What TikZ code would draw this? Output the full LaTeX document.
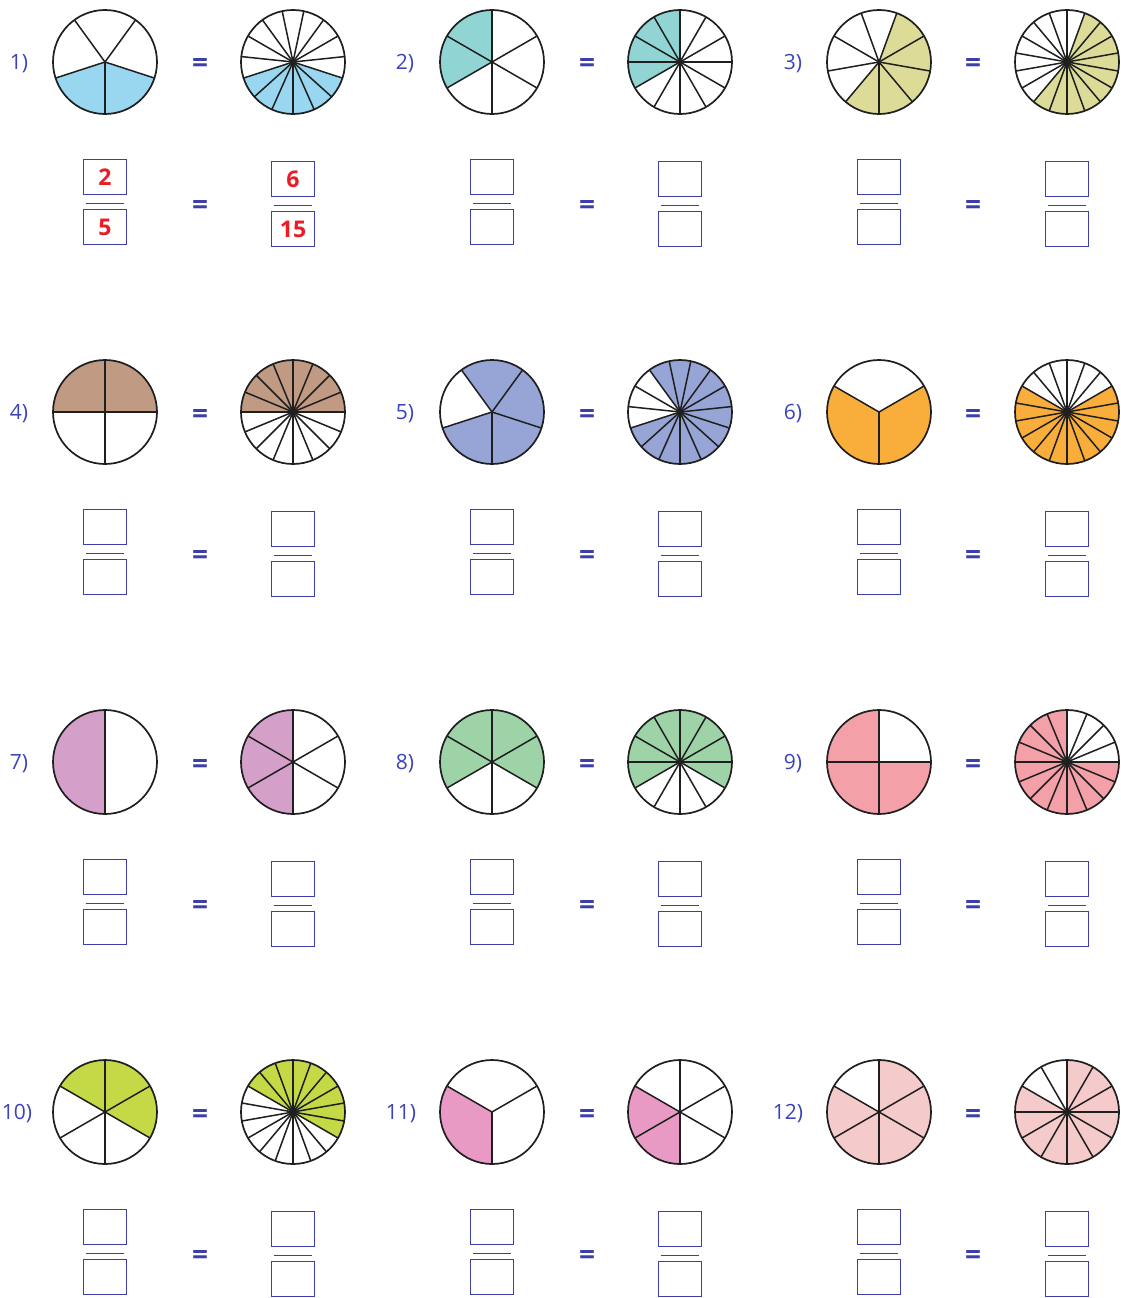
\documentclass[tikz,border=0pt]{standalone}
\usepackage{fontspec}
\setmainfont{Open Sans}
\definecolor{lblue}{RGB}{58,68,186}
\definecolor{boxblue}{RGB}{60,62,170}
\definecolor{ansred}{RGB}{236,28,36}
\definecolor{cA}{RGB}{153,214,240}
\definecolor{cB}{RGB}{144,212,212}
\definecolor{cC}{RGB}{220,220,152}
\definecolor{cD}{RGB}{192,154,130}
\definecolor{cE}{RGB}{150,165,213}
\definecolor{cF}{RGB}{249,174,60}
\definecolor{cG}{RGB}{212,159,200}
\definecolor{cH}{RGB}{158,211,168}
\definecolor{cI}{RGB}{244,160,168}
\definecolor{cJ}{RGB}{197,216,69}
\definecolor{cK}{RGB}{232,154,196}
\definecolor{cL}{RGB}{245,202,203}
\tikzset{
  seg/.style={draw=black!88, line width=1.5pt},
  rim/.style={draw=black!88, line width=1.7pt},
  lbl/.style={text=lblue, font=\fontsize{21}{24}\selectfont, inner sep=0pt},
  eqsign/.style={text=boxblue, font=\bfseries\fontsize{28}{30}\selectfont, inner sep=0pt},
  fbox/.style={draw=boxblue, line width=1.8pt, minimum width=43pt, minimum height=35pt,
    inner sep=0pt, text=ansred, font=\bfseries\fontsize{23}{26}\selectfont},
  fline/.style={draw=boxblue, line width=1.8pt},
}
\def\R{52pt}
% #1 name, #2 cx, #3 cy, #4 parts, #5 first boundary angle, #6 shade start, #7 shade end, #8 colour
\newcommand\mypie[8]{%
  \coordinate (#1) at (#2,#3);
  \fill[#8] (#1) -- ++(#6:\R) arc[start angle=#6, end angle=#7, radius=\R] -- cycle;
  \foreach \k in {1,...,#4} {\draw[seg] (#1) -- ++({#5+360/#4*\k}:\R);}
  \draw[rim] (#1) circle[radius=\R];
}
% #1 name, #2 x, #3 numerator centre y, #4 numerator, #5 denominator
\newcommand\myfrac[5]{%
  \node[fbox] (#1n) at (#2,#3) {#4};
  \node[fbox] (#1d) at (#2,#3+50) {#5};
  \draw[fline] ([xshift=3pt,yshift=-8pt]#1n.south west) -- ([xshift=-3pt,yshift=-8pt]#1n.south east);
}
\begin{document}
\begin{tikzpicture}[x=1pt,y=-1pt]
\useasboundingbox (0,0) rectangle (1121,1298);
\fill[white] (0,0) rectangle (1121,1298);

% ---------- circles ----------
\mypie{a1}{105}{62}{5}{270}{198}{342}{cA}
\mypie{b1}{293}{62}{15}{270}{198}{342}{cA}
\mypie{a2}{492}{62}{6}{90}{90}{210}{cB}
\mypie{b2}{680}{62}{12}{90}{90}{210}{cB}
\mypie{a3}{879}{62}{9}{270}{230}{430}{cC}
\mypie{b3}{1067}{62}{18}{270}{230}{430}{cC}

\mypie{a4}{105}{412}{4}{0}{0}{180}{cD}
\mypie{b4}{293}{412}{16}{0}{0}{180}{cD}
\mypie{a5}{492}{412}{5}{270}{198}{486}{cE}
\mypie{b5}{680}{412}{15}{270}{198}{486}{cE}
\mypie{a6}{879}{412}{3}{270}{150}{390}{cF}
\mypie{b6}{1067}{412}{18}{270}{150}{390}{cF}

\mypie{a7}{105}{762}{2}{90}{90}{270}{cG}
\mypie{b7}{293}{762}{6}{90}{90}{270}{cG}
\mypie{a8}{492}{762}{6}{90}{330}{570}{cH}
\mypie{b8}{680}{762}{12}{90}{330}{570}{cH}
\mypie{a9}{879}{762}{4}{0}{90}{360}{cI}
\mypie{b9}{1067}{762}{16}{0}{90}{360}{cI}

\mypie{a10}{105}{1112}{6}{90}{-30}{150}{cJ}
\mypie{b10}{293}{1112}{18}{90}{-30}{150}{cJ}
\mypie{a11}{492}{1112}{3}{270}{150}{270}{cK}
\mypie{b11}{680}{1112}{6}{90}{150}{270}{cK}
\mypie{a12}{879}{1112}{6}{90}{150}{450}{cL}
\mypie{b12}{1067}{1112}{12}{90}{150}{450}{cL}

% ---------- labels ----------
\node[lbl] (l1) at (19,64) {1)};
\node[lbl] (l2) at (405,64) {2)};
\node[lbl] (l3) at (793,64) {3)};
\node[lbl] (l4) at (19,414) {4)};
\node[lbl] (l5) at (405,414) {5)};
\node[lbl] (l6) at (793,414) {6)};
\node[lbl] (l7) at (19,764) {7)};
\node[lbl] (l8) at (405,764) {8)};
\node[lbl] (l9) at (793,764) {9)};
\node[lbl] (l10) at (17,1114) {10)};
\node[lbl] (l11) at (401,1114) {11)};
\node[lbl] (l12) at (788,1114) {12)};

% ---------- equals signs ----------
\foreach \ry [count=\i] in {62,412,762,1112} {
  \foreach \ex [count=\j] in {200,587,973} {
    \node[eqsign] (e\i\j) at (\ex,\ry+4) {=};
    \node[eqsign] (q\i\j) at (\ex,\ry+145) {=};
  }
}

% ---------- fractions ----------
\myfrac{f1a}{105}{177}{2}{5}
\myfrac{f1b}{293}{179}{6}{15}
\foreach \ry [count=\i] in {62,412,762,1112} {
  \foreach \cx [count=\j] in {105,492,879} {
    \ifnum\i=1 \ifnum\j=1 \else \myfrac{g\i\j a}{\cx}{\ry+115}{}{} \fi
    \else \myfrac{g\i\j a}{\cx}{\ry+115}{}{} \fi
  }
  \foreach \cx [count=\j] in {293,680,1067} {
    \ifnum\i=1 \ifnum\j=1 \else \myfrac{g\i\j b}{\cx}{\ry+117}{}{} \fi
    \else \myfrac{g\i\j b}{\cx}{\ry+117}{}{} \fi
  }
}
\end{tikzpicture}
\end{document}
